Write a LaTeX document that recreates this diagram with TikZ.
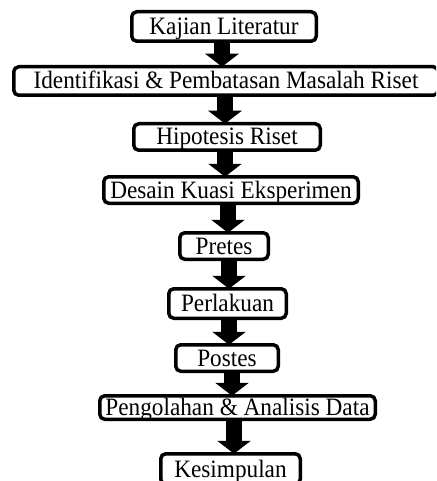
\documentclass[tikz,border=0pt]{standalone}
\usepackage{fontspec}
\setmainfont{Liberation Serif}[FakeStretch=0.93]
\usetikzlibrary{arrows.meta}
\begin{document}
\begin{tikzpicture}[x=1pt,y=-1pt,
  stepbox/.style={draw=black, line width=3.5pt, rounded corners=5pt, fill=white,
    inner sep=0pt, outer sep=0pt, font=\fontsize{25}{28}\selectfont,
    text height=18pt, text depth=2pt},
  blockarr/.style={line width=16pt, -{Triangle[width=33pt,length=13pt]}, black}]
\useasboundingbox (0,0) rectangle (436,481);
\clip (0,0) rectangle (436,481);
\node[stepbox, minimum width=184.5pt, minimum height=29.5pt] (b1) at (224,26.5) {Kajian Literatur};
\node[stepbox, minimum width=424.5pt, minimum height=28.5pt] (b2) at (226,81) {Identifikasi \& Pembatasan Masalah Riset};
\node[stepbox, minimum width=186.5pt, minimum height=26.5pt] (b3) at (227,137) {Hipotesis Riset};
\node[stepbox, minimum width=254.5pt, minimum height=26.5pt] (b4) at (231,190) {Desain Kuasi Eksperimen};
\node[stepbox, minimum width=88.5pt, minimum height=26.5pt] (b5) at (224,246) {Pretes};
\node[stepbox, minimum width=117.5pt, minimum height=29.5pt] (b6) at (227.5,303.5) {Perlakuan};
\node[stepbox, minimum width=102.5pt, minimum height=26.5pt] (b7) at (227,358) {Postes};
\node[stepbox, minimum width=275.5pt, minimum height=23.5pt] (b8) at (237.5,407.5) {Pengolahan \& Analisis Data};
\node[stepbox, minimum width=139.5pt, minimum height=30.5pt] (b9) at (230.5,469) {Kesimpulan};
\draw[blockarr] ([xshift=-2pt]b1.south) -- ([xshift=-2pt]b1.south |- b2.north);
\draw[blockarr] ([xshift=-1pt]b2.south) -- ([xshift=-1pt]b2.south |- b3.north);
\draw[blockarr] ([xshift=-2pt]b3.south) -- ([xshift=-2pt]b3.south |- b4.north);
\draw[blockarr] ([xshift=-3pt]b4.south) -- ([xshift=-3pt]b4.south |- b5.north);
\draw[blockarr] ([xshift=5pt]b5.south) -- ([xshift=5pt]b5.south |- b6.north);
\draw[blockarr] ([xshift=1.5pt]b6.south) -- ([xshift=1.5pt]b6.south |- b7.north);
\draw[blockarr] ([xshift=5pt]b7.south) -- ([xshift=5pt]b7.south |- b8.north);
\draw[blockarr] ([xshift=-3.5pt]b8.south) -- ([xshift=-3.5pt]b8.south |- b9.north);
\end{tikzpicture}
\end{document}
